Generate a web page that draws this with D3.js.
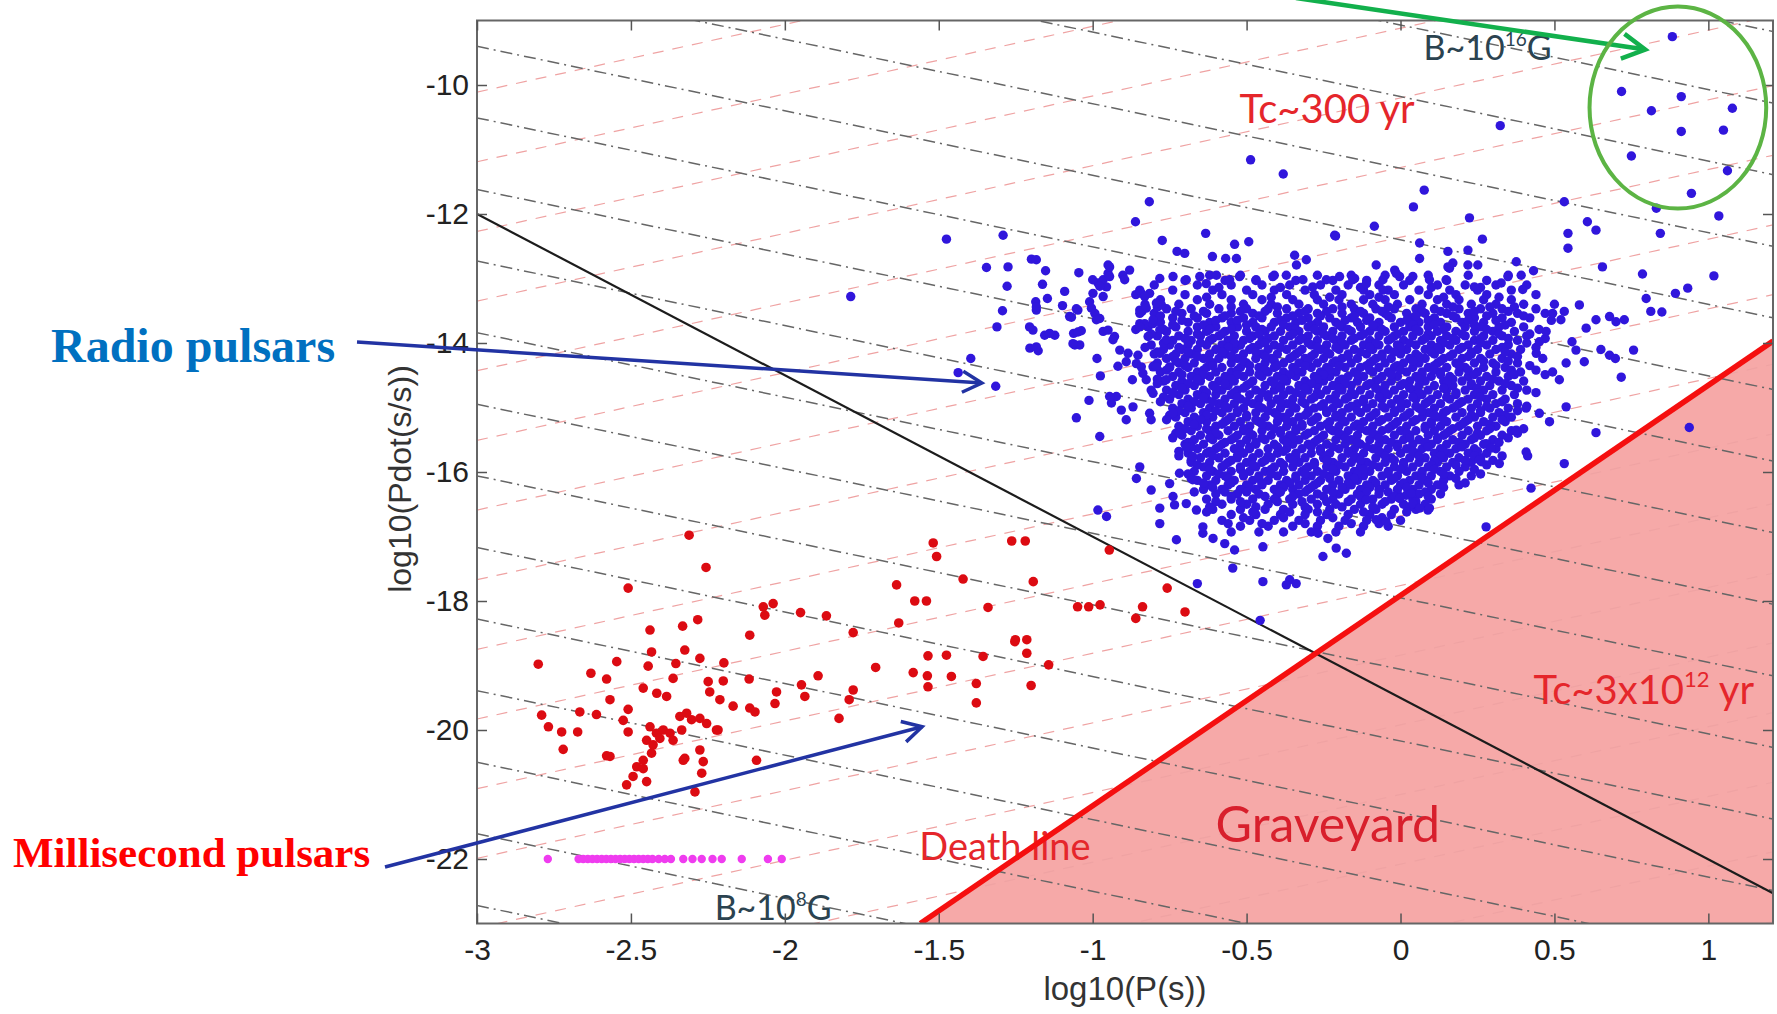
<!DOCTYPE html>
<html>
<head>
<meta charset="utf-8">
<script src="https://cdn.jsdelivr.net/npm/d3@7"></script>
<style>
  body { margin: 0; background: #fff; }
  svg { display: block; }
</style>
</head>
<body>
<div id="chart"></div>
<script>
// axis ticks
var xTicks = [-3, -2.5, -2, -1.5, -1, -0.5, 0, 0.5, 1];
var yTicks = [-10, -12, -14, -16, -18, -20, -22];

// constant-B lines (slope -1), value = y + x
var bLines = [-7.96, -9.07, -10.18, -11.29, -12.40, -13.51, -14.62, -15.73, -16.84, -17.95, -19.06, -20.17, -21.28, -22.39, -23.50, -24.61, -25.72];
// constant-age lines (slope ~1.05), value = y - 1.05 x
var ageLines = [-6.96, -8.04, -9.12, -10.20, -11.28, -12.36, -13.44, -14.52, -15.60, -16.68, -17.76, -18.84, -19.92, -21.00, -22.08, -23.16, -24.24];

var deathLine = [[-1.56, -23], [1.21, -13.97]];
var spinLine = [[-3, -12], [1.21, -22.53]];

// radio pulsars, dense core, one row per Pdot value
var radioRows = [
  [-12.95, [-0.62, -0.52, -0.41, -0.27, -0.16, -0.05, 0.09, 0.22, 0.35]],
  [-13.03, [-0.70, -0.57, -0.47, -0.34, -0.22, -0.11, 0.03, 0.15, 0.28]],
  [-13.10, [-0.80, -0.66, -0.55, -0.45, -0.36, -0.26, -0.17, -0.07, 0.01, 0.12, 0.21, 0.31, 0.41]],
  [-13.18, [-0.74, -0.61, -0.50, -0.41, -0.31, -0.21, -0.12, -0.04, 0.06, 0.16, 0.25, 0.36]],
  [-13.25, [-0.86, -0.70, -0.58, -0.48, -0.37, -0.28, -0.19, -0.10, -0.02, 0.09, 0.18, 0.28, 0.44]],
  [-13.33, [-0.78, -0.66, -0.55, -0.45, -0.35, -0.27, -0.20, -0.12, -0.05, 0.03, 0.12, 0.19, 0.27, 0.36]],
  [-13.40, [-0.83, -0.72, -0.62, -0.51, -0.42, -0.33, -0.25, -0.16, -0.09, -0.01, 0.07, 0.15, 0.23, 0.31, 0.40, 0.50]],
  [-13.47, [-0.76, -0.68, -0.59, -0.50, -0.43, -0.37, -0.30, -0.22, -0.15, -0.08, -0.02, 0.05, 0.11, 0.19, 0.26, 0.33, 0.44]],
  [-13.54, [-0.80, -0.71, -0.63, -0.55, -0.48, -0.40, -0.33, -0.27, -0.19, -0.12, -0.05, 0.02, 0.08, 0.15, 0.22, 0.30, 0.38, 0.47]],
  [-13.61, [-0.74, -0.66, -0.58, -0.51, -0.45, -0.37, -0.30, -0.23, -0.16, -0.10, -0.03, 0.04, 0.11, 0.18, 0.24, 0.33, 0.42]],
  [-13.68, [-0.78, -0.69, -0.62, -0.55, -0.48, -0.41, -0.34, -0.27, -0.21, -0.14, -0.07, 0.00, 0.06, 0.13, 0.20, 0.27, 0.36]],
  [-13.75, [-0.82, -0.73, -0.66, -0.60, -0.53, -0.47, -0.42, -0.36, -0.30, -0.25, -0.19, -0.13, -0.08, -0.02, 0.03, 0.09, 0.15, 0.21, 0.26, 0.32, 0.40]],
  [-13.82, [-0.76, -0.69, -0.63, -0.57, -0.50, -0.44, -0.39, -0.33, -0.27, -0.22, -0.16, -0.10, -0.05, 0.01, 0.06, 0.12, 0.18, 0.24, 0.30, 0.37]],
  [-13.89, [-0.79, -0.72, -0.65, -0.59, -0.54, -0.48, -0.41, -0.36, -0.30, -0.24, -0.19, -0.13, -0.07, -0.02, 0.04, 0.10, 0.15, 0.21, 0.27, 0.33, 0.41]],
  [-13.96, [-0.74, -0.68, -0.62, -0.56, -0.51, -0.45, -0.38, -0.33, -0.27, -0.21, -0.16, -0.10, -0.04, 0.01, 0.07, 0.13, 0.18, 0.24, 0.30, 0.38]],
  [-14.03, [-0.81, -0.75, -0.69, -0.63, -0.58, -0.52, -0.46, -0.41, -0.35, -0.29, -0.24, -0.18, -0.12, -0.07, -0.01, 0.05, 0.10, 0.16, 0.22, 0.28, 0.35]],
  [-14.10, [-0.77, -0.71, -0.66, -0.60, -0.54, -0.49, -0.43, -0.37, -0.32, -0.26, -0.20, -0.15, -0.09, -0.04, 0.02, 0.08, 0.13, 0.19, 0.25, 0.31, 0.39]],
  [-14.17, [-0.80, -0.73, -0.68, -0.62, -0.57, -0.51, -0.45, -0.40, -0.34, -0.28, -0.23, -0.17, -0.11, -0.06, 0.00, 0.05, 0.11, 0.17, 0.23, 0.29, 0.36]],
  [-14.24, [-0.76, -0.70, -0.64, -0.59, -0.53, -0.47, -0.42, -0.36, -0.31, -0.25, -0.19, -0.14, -0.08, -0.03, 0.03, 0.08, 0.14, 0.20, 0.26, 0.33]],
  [-14.31, [-0.79, -0.72, -0.67, -0.61, -0.55, -0.50, -0.44, -0.38, -0.33, -0.27, -0.22, -0.16, -0.10, -0.05, 0.01, 0.06, 0.12, 0.18, 0.24, 0.30, 0.38]],
  [-14.38, [-0.75, -0.69, -0.63, -0.58, -0.52, -0.46, -0.41, -0.35, -0.29, -0.24, -0.18, -0.13, -0.07, -0.02, 0.04, 0.09, 0.15, 0.21, 0.27, 0.34]],
  [-14.45, [-0.78, -0.72, -0.66, -0.60, -0.55, -0.49, -0.43, -0.38, -0.32, -0.26, -0.21, -0.15, -0.09, -0.04, 0.02, 0.07, 0.13, 0.19, 0.25, 0.31, 0.39]],
  [-14.52, [-0.74, -0.68, -0.62, -0.57, -0.51, -0.45, -0.40, -0.34, -0.28, -0.23, -0.17, -0.12, -0.06, -0.01, 0.05, 0.10, 0.16, 0.22, 0.28, 0.35]],
  [-14.59, [-0.77, -0.71, -0.65, -0.59, -0.54, -0.48, -0.42, -0.37, -0.31, -0.25, -0.20, -0.14, -0.08, -0.03, 0.03, 0.08, 0.14, 0.20, 0.26, 0.32, 0.40]],
  [-14.66, [-0.73, -0.67, -0.61, -0.56, -0.50, -0.44, -0.39, -0.33, -0.27, -0.22, -0.16, -0.11, -0.05, 0.00, 0.06, 0.11, 0.17, 0.23, 0.29, 0.36]],
  [-14.73, [-0.76, -0.70, -0.64, -0.58, -0.53, -0.47, -0.41, -0.36, -0.30, -0.24, -0.19, -0.13, -0.07, -0.02, 0.04, 0.09, 0.15, 0.21, 0.27, 0.33, 0.41]],
  [-14.80, [-0.72, -0.66, -0.60, -0.55, -0.49, -0.43, -0.38, -0.32, -0.26, -0.21, -0.15, -0.10, -0.04, 0.01, 0.07, 0.12, 0.18, 0.24, 0.30, 0.37]],
  [-14.87, [-0.75, -0.69, -0.63, -0.57, -0.52, -0.46, -0.40, -0.35, -0.29, -0.23, -0.18, -0.12, -0.06, -0.01, 0.05, 0.10, 0.16, 0.22, 0.28, 0.34]],
  [-14.94, [-0.71, -0.65, -0.59, -0.54, -0.48, -0.42, -0.37, -0.31, -0.25, -0.20, -0.14, -0.09, -0.03, 0.02, 0.08, 0.13, 0.19, 0.25, 0.31, 0.38]],
  [-15.01, [-0.74, -0.68, -0.62, -0.56, -0.51, -0.45, -0.39, -0.34, -0.28, -0.22, -0.17, -0.11, -0.05, 0.00, 0.06, 0.11, 0.17, 0.23, 0.29, 0.35]],
  [-15.08, [-0.70, -0.64, -0.58, -0.53, -0.47, -0.41, -0.36, -0.30, -0.24, -0.19, -0.13, -0.08, -0.02, 0.03, 0.09, 0.14, 0.20, 0.26, 0.32]],
  [-15.15, [-0.73, -0.67, -0.61, -0.55, -0.50, -0.44, -0.38, -0.33, -0.27, -0.21, -0.16, -0.10, -0.04, 0.01, 0.07, 0.12, 0.18, 0.24, 0.30, 0.36]],
  [-15.22, [-0.69, -0.63, -0.57, -0.52, -0.46, -0.40, -0.35, -0.29, -0.23, -0.18, -0.12, -0.07, -0.01, 0.04, 0.10, 0.15, 0.21, 0.27, 0.34]],
  [-15.29, [-0.72, -0.66, -0.60, -0.54, -0.49, -0.43, -0.37, -0.32, -0.26, -0.20, -0.15, -0.09, -0.03, 0.02, 0.08, 0.13, 0.19, 0.25, 0.31]],
  [-15.36, [-0.68, -0.62, -0.56, -0.51, -0.45, -0.39, -0.34, -0.28, -0.22, -0.17, -0.11, -0.06, 0.00, 0.05, 0.11, 0.16, 0.22, 0.28, 0.36]],
  [-15.43, [-0.71, -0.65, -0.59, -0.53, -0.48, -0.42, -0.36, -0.31, -0.25, -0.19, -0.14, -0.08, -0.02, 0.03, 0.09, 0.14, 0.20, 0.26, 0.33]],
  [-15.50, [-0.67, -0.61, -0.55, -0.50, -0.44, -0.38, -0.33, -0.27, -0.21, -0.16, -0.10, -0.05, 0.01, 0.06, 0.12, 0.17, 0.23, 0.30]],
  [-15.57, [-0.70, -0.64, -0.58, -0.52, -0.47, -0.41, -0.35, -0.30, -0.24, -0.18, -0.13, -0.07, -0.01, 0.04, 0.10, 0.15, 0.21, 0.27]],
  [-15.64, [-0.66, -0.60, -0.54, -0.49, -0.43, -0.37, -0.32, -0.26, -0.20, -0.15, -0.09, -0.04, 0.02, 0.07, 0.13, 0.18, 0.24, 0.31]],
  [-15.71, [-0.69, -0.63, -0.57, -0.51, -0.46, -0.40, -0.34, -0.29, -0.23, -0.17, -0.12, -0.06, 0.00, 0.05, 0.11, 0.16, 0.22, 0.28]],
  [-15.78, [-0.65, -0.59, -0.53, -0.48, -0.42, -0.36, -0.31, -0.25, -0.19, -0.14, -0.08, -0.03, 0.03, 0.08, 0.14, 0.19, 0.26]],
  [-15.85, [-0.68, -0.62, -0.56, -0.50, -0.45, -0.39, -0.33, -0.28, -0.22, -0.16, -0.11, -0.05, 0.01, 0.06, 0.12, 0.17, 0.23]],
  [-15.92, [-0.64, -0.58, -0.52, -0.47, -0.41, -0.35, -0.30, -0.24, -0.18, -0.13, -0.07, -0.02, 0.04, 0.09, 0.15, 0.21]],
  [-15.99, [-0.67, -0.61, -0.55, -0.49, -0.44, -0.38, -0.32, -0.27, -0.21, -0.15, -0.10, -0.04, 0.02, 0.07, 0.13, 0.19]],
  [-16.06, [-0.63, -0.57, -0.51, -0.46, -0.40, -0.34, -0.29, -0.23, -0.17, -0.12, -0.06, -0.01, 0.05, 0.10, 0.16, 0.23]],
  [-16.13, [-0.66, -0.60, -0.54, -0.48, -0.43, -0.37, -0.31, -0.26, -0.20, -0.14, -0.09, -0.03, 0.03, 0.08, 0.14]],
  [-16.20, [-0.62, -0.56, -0.50, -0.45, -0.39, -0.33, -0.28, -0.22, -0.16, -0.11, -0.05, 0.00, 0.06, 0.12, 0.19]],
  [-16.27, [-0.64, -0.58, -0.52, -0.47, -0.41, -0.35, -0.30, -0.24, -0.18, -0.13, -0.07, -0.01, 0.04, 0.10]],
  [-16.34, [-0.60, -0.53, -0.46, -0.40, -0.33, -0.27, -0.20, -0.14, -0.07, -0.01, 0.06, 0.13]],
  [-16.42, [-0.63, -0.55, -0.48, -0.41, -0.36, -0.29, -0.22, -0.16, -0.09, -0.03, 0.04, 0.10]],
  [-16.50, [-0.58, -0.50, -0.43, -0.35, -0.27, -0.21, -0.13, -0.06, 0.01, 0.08]],
  [-16.58, [-0.61, -0.52, -0.44, -0.38, -0.30, -0.23, -0.15, -0.08, -0.02, 0.05]],
  [-16.66, [-0.55, -0.47, -0.39, -0.31, -0.24, -0.17, -0.10, -0.03]],
  [-16.75, [-0.58, -0.49, -0.41, -0.33, -0.26, -0.18, -0.11, 0.00]],
  [-16.84, [-0.52, -0.43, -0.35, -0.27, -0.20, -0.12, -0.04]],
  [-16.93, [-0.55, -0.46, -0.38, -0.29, -0.21, -0.13]],
  // in-between rows of the core
  [-13.14, [-0.59, -0.39, -0.13, 0.10, 0.26]],
  [-13.29, [-0.63, -0.42, -0.23, -0.07, 0.14, 0.32]],
  [-13.44, [-0.79, -0.55, -0.40, -0.19, -0.04, 0.17, 0.29, 0.37]],
  [-13.51, [-0.84, -0.73, -0.64, -0.52, -0.44, -0.31, -0.24, -0.13, -0.06, 0.07, 0.13, 0.24, 0.35]],
  [-13.58, [-0.78, -0.67, -0.57, -0.46, -0.35, -0.26, -0.15, -0.04, 0.05, 0.17, 0.28, 0.40]],
  [-13.65, [-0.71, -0.60, -0.53, -0.39, -0.32, -0.18, -0.11, 0.02, 0.09, 0.22, 0.31, 0.49]],
  [-13.72, [-0.74, -0.64, -0.50, -0.38, -0.29, -0.20, -0.09, 0.04, 0.11, 0.24, 0.34]],
  [-13.79, [-0.86, -0.77, -0.62, -0.55, -0.45, -0.34, -0.28, -0.17, -0.06, 0.05, 0.14, 0.28, 0.45]],
  [-13.86, [-0.81, -0.66, -0.58, -0.46, -0.35, -0.25, -0.12, -0.01, 0.09, 0.20, 0.32, 0.42]],
  [-13.93, [-0.70, -0.61, -0.49, -0.43, -0.32, -0.22, -0.15, -0.03, 0.08, 0.17, 0.26, 0.35, 0.47]],
  [-14.00, [-0.77, -0.65, -0.54, -0.44, -0.30, -0.19, -0.08, 0.03, 0.14, 0.26, 0.41]],
  [-14.07, [-0.83, -0.72, -0.56, -0.48, -0.39, -0.27, -0.21, -0.10, 0.00, 0.12, 0.20, 0.33, 0.44]],
  [-14.14, [-0.79, -0.69, -0.58, -0.47, -0.33, -0.24, -0.13, -0.02, 0.10, 0.23, 0.34]],
  [-14.21, [-0.74, -0.66, -0.55, -0.44, -0.35, -0.29, -0.17, -0.06, 0.06, 0.16, 0.22, 0.38]],
  [-14.28, [-0.73, -0.62, -0.51, -0.41, -0.30, -0.21, -0.09, 0.04, 0.13, 0.27, 0.35]],
  [-14.35, [-0.80, -0.70, -0.61, -0.49, -0.40, -0.31, -0.20, -0.11, -0.01, 0.11, 0.19, 0.31, 0.42]],
  [-14.42, [-0.76, -0.64, -0.53, -0.44, -0.34, -0.23, -0.10, 0.00, 0.11, 0.22, 0.36, 0.44]],
  [-14.49, [-0.71, -0.64, -0.53, -0.46, -0.36, -0.25, -0.14, -0.03, 0.07, 0.13, 0.24, 0.37, 0.47]],
  [-14.56, [-0.79, -0.66, -0.55, -0.38, -0.27, -0.19, -0.07, 0.06, 0.17, 0.30]],
  [-14.63, [-0.79, -0.69, -0.57, -0.49, -0.41, -0.29, -0.18, -0.10, 0.01, 0.15, 0.23, 0.34]],
  [-14.70, [-0.71, -0.60, -0.51, -0.39, -0.31, -0.20, -0.08, 0.03, 0.14, 0.25, 0.38]],
  [-14.77, [-0.74, -0.63, -0.54, -0.45, -0.34, -0.27, -0.16, -0.05, 0.06, 0.18, 0.25, 0.44]],
  [-14.84, [-0.77, -0.64, -0.53, -0.43, -0.28, -0.17, -0.07, 0.04, 0.15, 0.26]],
  [-14.91, [-0.78, -0.67, -0.61, -0.50, -0.39, -0.32, -0.21, -0.12, 0.00, 0.09, 0.20, 0.33]],
  [-14.98, [-0.69, -0.57, -0.46, -0.35, -0.26, -0.16, -0.06, 0.05, 0.18, 0.28, 0.41]],
  [-15.05, [-0.72, -0.60, -0.53, -0.43, -0.30, -0.24, -0.14, -0.02, 0.07, 0.15, 0.26, 0.38]],
  [-15.12, [-0.75, -0.63, -0.50, -0.40, -0.31, -0.21, -0.09, 0.02, 0.11, 0.23, 0.34]],
  [-15.19, [-0.76, -0.65, -0.56, -0.47, -0.37, -0.28, -0.19, -0.06, 0.05, 0.14, 0.22, 0.33]],
  [-15.26, [-0.67, -0.58, -0.45, -0.32, -0.24, -0.14, -0.02, 0.10, 0.20, 0.29]],
  [-15.33, [-0.70, -0.63, -0.51, -0.41, -0.34, -0.23, -0.13, -0.04, 0.08, 0.17, 0.29, 0.40]],
  [-15.40, [-0.73, -0.60, -0.49, -0.39, -0.30, -0.20, -0.09, 0.02, 0.15, 0.25, 0.38]],
  [-15.47, [-0.74, -0.62, -0.54, -0.45, -0.35, -0.26, -0.18, -0.07, 0.03, 0.12, 0.24, 0.35]],
  [-15.54, [-0.69, -0.57, -0.47, -0.37, -0.28, -0.14, -0.03, 0.08, 0.19, 0.32]],
  [-15.61, [-0.68, -0.59, -0.49, -0.40, -0.29, -0.22, -0.11, -0.01, 0.09, 0.20, 0.29]],
  [-15.68, [-0.72, -0.62, -0.52, -0.38, -0.26, -0.17, -0.07, 0.04, 0.14, 0.25]],
  [-15.75, [-0.72, -0.61, -0.53, -0.43, -0.34, -0.24, -0.15, -0.05, 0.06, 0.13, 0.24, 0.33]],
  [-15.82, [-0.68, -0.55, -0.44, -0.35, -0.24, -0.13, -0.02, 0.11, 0.21, 0.30]],
  [-15.89, [-0.66, -0.57, -0.48, -0.38, -0.28, -0.20, -0.09, 0.01, 0.10, 0.18, 0.28]],
  [-15.96, [-0.62, -0.52, -0.42, -0.31, -0.22, -0.12, 0.00, 0.11, 0.24]],
  [-16.03, [-0.69, -0.59, -0.51, -0.42, -0.31, -0.25, -0.14, -0.04, 0.07, 0.14, 0.26]],
  [-16.10, [-0.68, -0.56, -0.46, -0.34, -0.23, -0.15, -0.02, 0.07, 0.18]],
  [-16.17, [-0.64, -0.55, -0.45, -0.36, -0.27, -0.17, -0.08, 0.01, 0.09, 0.21]],
  [-16.24, [-0.61, -0.49, -0.38, -0.29, -0.19, -0.10, 0.02, 0.14]],
  [-16.31, [-0.67, -0.57, -0.50, -0.39, -0.31, -0.22, -0.11, -0.04, 0.08]],
  [-16.38, [-0.55, -0.44, -0.35, -0.25, -0.13, -0.02, 0.09]],
  [-16.46, [-0.60, -0.52, -0.40, -0.32, -0.24, -0.17, -0.05, 0.05]],
  [-16.54, [-0.62, -0.47, -0.31, -0.19, -0.09, 0.03]],
  [-16.62, [-0.63, -0.48, -0.36, -0.27, -0.12, 0.02]],
  [-16.71, [-0.51, -0.38, -0.22, -0.06]],
  [-16.80, [-0.56, -0.45, -0.31, -0.16, -0.07]]
];

// radio pulsars, scattered ones
var radioPoints = [
  [0.883,-9.25],[0.718,-10.10],[0.912,-10.18],[0.815,-10.40],[1.078,-10.36],[0.912,-10.72],[1.049,-10.70],
  [0.75,-11.10],[1.062,-11.33],[0.945,-11.68],[0.324,-10.63],[-0.487,-11.16],[-0.381,-11.38],[-0.816,-11.81],
  [0.077,-11.63],[0.042,-11.89],[0.532,-11.81],[0.831,-11.91],[1.034,-12.03],[0.844,-12.30],[0.544,-12.30],
  [0.544,-12.53],[0.607,-12.12],[0.635,-12.25],[0.224,-12.06],[0.266,-12.39],[-0.085,-12.19],[-0.214,-12.33],
  [-0.861,-12.12],[-0.774,-12.41],[0.656,-12.82],[0.786,-12.93],[1.018,-12.96],[0.893,-13.23],[0.933,-13.15],
  [0.813,-13.51],[0.849,-13.52],
  [-1.475,-12.39],[-1.786,-13.28],[-1.291,-12.33],[-1.345,-12.83],[-1.275,-12.82],[-1.278,-13.12],[-1.199,-12.70],
  [-1.183,-12.71],[-1.153,-12.88],[-1.163,-13.09],[-1.293,-13.50],[-1.311,-13.75],[-1.396,-14.24],[-1.437,-14.46],
  [-1.315,-14.67],[-1.194,-13.80],[-1.204,-14.08],[-1.177,-14.12],[-1.156,-13.88],[-1.123,-13.88],[-1.147,-13.31],
  [-1.185,-13.36],[-1.183,-13.49],[-1.091,-13.20],[-1.098,-13.42],[-1.045,-12.91],[-1.075,-13.59],[-1.048,-13.49],
  [-1.062,-13.85],[-1.037,-13.81],[-1.058,-14.03],[-1.042,-14.03],[-1.010,-13.36],[-0.999,-13.23],[-0.983,-13.07],
  [-0.966,-13.02],[-0.955,-13.13],[-0.993,-13.54],[-0.977,-13.62],[-0.95,-12.79],[-0.95,-12.92],[-0.902,-12.95],
  [-0.88,-12.87],[-0.896,-13.02],[-0.966,-13.82],[-0.929,-13.90],[-0.934,-13.95],[-0.986,-14.24],[-0.975,-14.51],
  [-1.012,-14.89],[-1.053,-15.16],[-0.977,-15.45],[-0.923,-14.83],[-0.939,-14.93],[-0.918,-14.36],[-0.891,-15.19],
  [-0.869,-14.99],[-0.885,-14.16],[-0.853,-14.19],[-0.858,-14.32],[-0.842,-14.37],[-0.837,-14.47],[-0.826,-14.57],
  [-0.804,-14.37],[-0.81,-14.73],[-0.815,-15.09],[-0.81,-15.19],[-0.847,-15.92],[-0.858,-16.10],[-0.81,-16.28],
  [-0.782,-16.56],[-0.782,-16.80],[-0.983,-16.59],[-0.955,-16.69],[-0.842,-13.23],[-0.815,-13.23],[-0.847,-13.49],
  [-0.826,-13.46],[-0.847,-13.70],[-0.831,-13.70],[-0.804,-13.70],[-0.777,-13.41],[-0.782,-13.0],
  [-0.633,-12.30],[-0.726,-12.58],[-0.701,-12.61],[-0.539,-12.47],[-0.493,-12.43],[-0.611,-12.66],[-0.568,-12.69],
  [-0.533,-12.69],[-0.211,-12.34],[0.062,-12.45],[0.154,-12.58],[0.159,-12.84],[0.062,-12.69],[-0.344,-12.64],
  [-0.306,-12.71],[-0.338,-12.79],[-0.079,-12.79],[-0.019,-12.87],[-0.003,-12.97],[-0.149,-13.0],[-0.057,-13.18],
  [-0.75,-16.18],[-0.734,-16.51],[-0.728,-17.05],[-0.66,-17.73],[-0.642,-16.95],[-0.609,-17.03],[-0.571,-17.11],
  [-0.539,-17.21],[-0.545,-17.49],[-0.447,-17.16],[-0.447,-17.70],[-0.36,-17.67],[-0.339,-17.73],[-0.371,-17.75],
  [-0.252,-17.31],[-0.209,-17.18],[-0.176,-17.26],[-0.236,-17.03],[-0.268,-16.95],[-0.079,-16.74],[-0.047,-16.77],
  [0.089,-16.59],[0.040,-16.49],[0.018,-16.36],[-0.111,-16.43],[-0.068,-16.28],[-0.456,-18.30],
  [-1.183,-13.44],[-1.053,-13.47],[-1.069,-13.60],[-1.048,-13.83],[-1.064,-14.01],[-1.140,-13.85],[-1.183,-14.06],
  [-1.205,-13.75],[-1.0,-13.02],[-0.977,-13.12],[-0.945,-12.97],[-0.945,-12.82],[-0.966,-13.28],[-1.004,-13.46],
  [-0.988,-13.64],[-0.95,-13.80],[-0.945,-14.83],[-0.907,-15.04],[-0.871,-14.57],[-0.891,-14.29],[-0.912,-14.11],
  [-0.847,-13.18],[-0.831,-13.28],[-0.793,-13.38],[-0.847,-13.54],[-0.804,-13.64],[-0.782,-13.80],[-0.761,-13.95],
  [-0.847,-13.75],[-0.82,-13.90],[-0.782,-14.16],[-0.75,-14.37],[-0.793,-14.37],[-0.761,-14.57],[-0.739,-14.78],
  [-0.804,-14.78],[-0.739,-15.09],[-0.718,-15.40],[-0.696,-15.61],[-0.675,-15.76],[-0.718,-16.02],[-0.675,-16.12],
  [-0.739,-16.38],[-0.696,-16.49],[-0.663,-16.59],[-0.642,-16.85],
  [-0.739,-12.97],[-0.696,-13.02],[-0.652,-12.97],[-0.631,-13.08],[-0.598,-12.95],[-0.555,-13.02],[-0.523,-12.97],
  [-0.469,-13.02],[-0.415,-12.97],[-0.371,-12.95],[-0.317,-13.02],[-0.285,-13.13],[-0.241,-13.02],[-0.198,-12.97],
  [-0.155,-13.02],[-0.111,-13.08],[-0.057,-13.02],[-0.014,-12.92],[0.040,-12.97],[0.094,-13.02],[0.148,-13.02],
  [0.170,-12.76],
  [0.219,-12.56],[0.154,-12.82],[0.219,-12.79],[0.251,-12.79],[0.376,-12.74],[0.392,-12.95],[0.432,-12.88],
  [0.397,-13.17],[0.24,-13.13],[0.327,-13.07],[0.349,-12.97],[0.798,-13.31],[0.581,-13.41],[0.494,-13.54],
  [0.532,-13.51],[0.521,-13.64],[0.679,-13.59],[0.70,-13.67],[0.727,-13.64],[0.635,-13.64],[0.603,-13.77],
  [0.651,-14.10],[0.679,-14.19],[0.698,-14.24],[0.757,-14.11],[0.717,-14.53],[0.557,-13.98],[0.57,-14.11],
  [0.538,-14.31],[0.597,-14.29],[0.494,-14.45],[0.516,-14.57],[0.473,-13.82],[0.451,-13.98],[0.441,-14.16],
  [0.462,-14.24],[0.538,-14.99],[0.635,-15.39],[0.532,-15.87],[0.408,-15.69],[0.413,-15.75],[0.321,-15.87],
  [0.262,-15.84],[0.424,-16.25],[0.484,-15.22],[0.451,-15.09],[0.408,-15.01],[0.376,-15.35],[0.938,-15.31],
  [0.278,-16.85],[0.094,-16.56],[0.062,-16.56],[0.035,-16.33],[-0.003,-16.41],[0.278,-15.56],[0.294,-15.63],
  [0.256,-15.81]
];

// millisecond pulsars
var mspPoints = [
  [-2.311,-16.98],[-2.256,-17.48],[-2.509,-17.80],[-1.518,-17.10],[-1.507,-17.31],[-1.421,-17.66],[-1.637,-17.75],
  [-1.578,-18.00],[-1.540,-18.00],[-1.63,-18.34],[-1.34,-18.10],[-1.253,-18.63],[-2.07,-18.09],[-2.038,-18.04],
  [-2.065,-18.22],[-1.949,-18.18],[-1.865,-18.23],[-1.778,-18.49],[-2.114,-18.53],[-2.283,-18.29],[-2.332,-18.39],
  [-2.438,-18.45],[-2.433,-18.79],[-2.325,-18.76],[-2.276,-18.89],[-2.198,-18.96],[-2.354,-18.97],[-2.444,-19.01],
  [-2.546,-18.94],[-2.801,-18.98],[-2.63,-19.12],[-2.579,-19.21],[-1.705,-19.03],[-1.583,-19.11],[-1.537,-19.16],
  [-1.535,-19.33],[-1.475,-18.84],[-1.535,-18.85],[-1.356,-18.86],[-1.459,-19.17],[-1.378,-19.28],[-1.378,-19.58],
  [-1.892,-19.16],[-1.946,-19.30],[-1.935,-19.48],[-2.027,-19.41],[-2.032,-19.59],[-1.778,-19.38],[-1.791,-19.53],
  [-1.824,-19.82],[-2.116,-19.21],[-2.2,-19.24],[-2.249,-19.25],[-2.244,-19.41],[-2.168,-19.63],[-2.114,-19.66],
  [-2.097,-19.72],[-2.211,-19.53],[-2.217,-20.0],[-2.46,-19.35],[-2.416,-19.43],[-2.384,-19.48],[-2.363,-19.2],
  [-2.568,-19.53],[-2.509,-19.68],[-2.666,-19.72],[-2.612,-19.76],[-2.79,-19.77],[-2.768,-19.95],[-2.725,-20.03],
  [-2.673,-20.03],[-2.72,-20.30],[-2.525,-19.85],[-2.509,-20.03],
  [-2.438,-19.95],[-2.417,-20.05],[-2.395,-20.0],[-2.449,-20.16],[-2.428,-20.23],[-2.406,-20.13],[-2.373,-20.05],
  [-2.341,-19.79],[-2.319,-19.74],[-2.303,-19.84],[-2.276,-19.82],[-2.254,-19.9],[-2.222,-20.0],[-2.335,-20.0],
  [-2.363,-20.16],[-2.433,-20.36],[-2.46,-20.47],[-2.481,-20.57],[-2.493,-20.72],[-2.449,-20.80],[-2.514,-20.85],
  [-2.325,-20.44],[-2.276,-20.31],[-2.265,-20.49],[-2.27,-20.67],[-2.292,-20.96],[-2.568,-20.41],[-2.092,-20.47],
  [-2.579,-20.40],[-2.46,-20.60],[-2.33,-20.47],
  [-1.263,-17.07],[-1.219,-17.07],[-1.193,-17.70],[-0.946,-17.21],[-1.049,-18.09],[-1.013,-18.09],[-0.976,-18.06],
  [-0.838,-18.09],[-0.86,-18.27],[-0.758,-17.80],[-1.251,-18.60],[-1.214,-18.60],[-1.214,-18.81],[-1.143,-18.99],
  [-0.70,-18.17],[-1.20,-19.31]
];

// pulsars with only an upper limit, drawn at -22
var limitX = [-2.77, -2.67, -2.655, -2.64, -2.625, -2.61, -2.595, -2.58, -2.565, -2.55, -2.535, -2.52, -2.505, -2.49,
  -2.475, -2.46, -2.445, -2.43, -2.41, -2.39, -2.37, -2.33, -2.30, -2.27, -2.235, -2.205, -2.14, -2.055, -2.01];
var limitY = -22;

var W = 1777, H = 1014;
var pLeft = 477, pRight = 1773, pTop = 20.5, pBottom = 923.5;

var x = d3.scaleLinear().domain([-3, 1.21]).range([pLeft, pRight]);
var y = d3.scaleLinear().domain([-9, -23]).range([pTop, pBottom]);

var svg = d3.select("#chart").append("svg")
  .attr("width", W)
  .attr("height", H);

svg.append("defs").append("clipPath")
  .attr("id", "plot")
  .append("rect")
  .attr("x", pLeft).attr("y", pTop)
  .attr("width", pRight - pLeft).attr("height", pBottom - pTop);

var plot = svg.append("g").attr("clip-path", "url(#plot)");
var line = d3.line().x(function(d) { return x(d[0]); }).y(function(d) { return y(d[1]); });

// graveyard
plot.append("path")
  .attr("d", line([deathLine[0], deathLine[1], [1.21, -23]]) + "Z")
  .style("fill", "#f6a9a8");

// constant age lines
plot.selectAll(".age").data(ageLines).enter().append("path")
  .attr("d", function(d) { return line([[-3, d - 3.15], [1.21, d + 1.05 * 1.21]]); })
  .style("fill", "none")
  .style("stroke", "#efa3a3")
  .style("stroke-width", 1.2)
  .style("stroke-dasharray", "11,9");

// constant field lines
plot.selectAll(".bf").data(bLines).enter().append("path")
  .attr("d", function(d) { return line([[-3, d + 3], [1.21, d - 1.21]]); })
  .style("fill", "none")
  .style("stroke", "#666")
  .style("stroke-width", 1.5)
  .style("stroke-dasharray", "12,5,2,5");

plot.append("path")
  .attr("d", line(spinLine))
  .style("fill", "none")
  .style("stroke", "#1c1c1c")
  .style("stroke-width", 2.2);

// labels inside the plot
var lab = "Lato, 'Open Sans', sans-serif";
var labels = svg.append("g");
function tag(px, py, size, color) {
  return labels.append("text")
    .attr("x", x(px)).attr("y", y(py))
    .style("font-family", lab)
    .style("font-size", size + "px")
    .style("fill", color);
}
function sup(t, s, size, rest) {
  t.append("tspan").attr("dy", -size * 0.75).style("font-size", size + "px").text(s);
  t.append("tspan").attr("dy", size * 0.75).text(rest);
}
tag(-0.523, -10.59, 40, "#e5262b").text("Tc~300 yr");
sup(tag(0.075, -9.61, 34, "#2b4350").text("B~10"), "16", 19, "G");
sup(tag(0.432, -19.59, 40, "#e5262b").text("Tc~3x10"), "12", 22, " yr");
tag(-0.601, -21.73, 50, "#d81f2c").text("Graveyard");
tag(-1.563, -22.02, 38, "#e5262b").text("Death line");
sup(tag(-2.228, -22.95, 34, "#2b4350").text("B~10"), "8", 19, "G");

var marks = svg.append("g").attr("clip-path", "url(#plot)");
marks.append("path")
  .attr("d", line(deathLine))
  .style("fill", "none")
  .style("stroke", "#f50f0f")
  .style("stroke-width", 5.5);

// points
var core = [];
radioRows.forEach(function(r) { r[1].forEach(function(v) { core.push([v, r[0]]); }); });

marks.selectAll(".limit").data(limitX).enter().append("circle")
  .attr("cx", function(d) { return x(d); })
  .attr("cy", y(limitY))
  .attr("r", 4.2)
  .style("fill", "#ef3cef");

marks.selectAll(".msp").data(mspPoints).enter().append("circle")
  .attr("cx", function(d) { return x(d[0]); })
  .attr("cy", function(d) { return y(d[1]); })
  .attr("r", 4.8)
  .style("fill", "#dc0b12");

marks.selectAll(".radio").data(core.concat(radioPoints)).enter().append("circle")
  .attr("cx", function(d) { return x(d[0]); })
  .attr("cy", function(d) { return y(d[1]); })
  .attr("r", 4.7)
  .style("fill", "#3016dc");

// frame and ticks
svg.append("rect")
  .attr("x", pLeft).attr("y", pTop)
  .attr("width", pRight - pLeft).attr("height", pBottom - pTop)
  .style("fill", "none")
  .style("stroke", "#666")
  .style("stroke-width", 2);

var fmt = function(d) { return String(d); };
var tickFont = "'Liberation Sans', Arial, Helvetica, sans-serif";

svg.append("g").attr("transform", "translate(0," + pBottom + ")")
  .call(d3.axisBottom(x).tickValues(xTicks).tickFormat(fmt).tickSizeInner(-10).tickSizeOuter(0).tickPadding(15));
svg.append("g").attr("transform", "translate(0," + pTop + ")")
  .call(d3.axisTop(x).tickValues(xTicks).tickFormat("").tickSizeInner(-10).tickSizeOuter(0));
svg.append("g").attr("transform", "translate(" + pLeft + ",0)")
  .call(d3.axisLeft(y).tickValues(yTicks).tickFormat(fmt).tickSizeInner(-10).tickSizeOuter(0).tickPadding(8));
svg.append("g").attr("transform", "translate(" + pRight + ",0)")
  .call(d3.axisRight(y).tickValues(yTicks).tickFormat("").tickSizeInner(-10).tickSizeOuter(0));

svg.selectAll(".domain").remove();
svg.selectAll(".tick line").style("stroke", "#555").style("stroke-width", 1.5);
svg.selectAll(".tick text")
  .style("font-family", tickFont)
  .style("font-size", "30px")
  .style("fill", "#222");

svg.append("text")
  .attr("x", 1125).attr("y", 1000)
  .style("font-family", tickFont)
  .style("font-size", "33px")
  .style("text-anchor", "middle")
  .style("fill", "#333")
  .text("log10(P(s))");

svg.append("text")
  .attr("transform", "translate(411,479) rotate(-90)")
  .style("font-family", tickFont)
  .style("font-size", "32px")
  .style("text-anchor", "middle")
  .style("fill", "#333")
  .text("log10(Pdot(s/s))");

// callouts
function arrow(x1, y1, x2, y2, color, w, len) {
  var a = Math.atan2(y2 - y1, x2 - x1), s = 0.5;
  svg.append("line")
    .attr("x1", x1).attr("y1", y1).attr("x2", x2).attr("y2", y2)
    .style("stroke", color).style("stroke-width", w);
  svg.append("path")
    .attr("d", "M" + (x2 - len * Math.cos(a - s)) + "," + (y2 - len * Math.sin(a - s)) +
      "L" + x2 + "," + y2 +
      "L" + (x2 - len * Math.cos(a + s)) + "," + (y2 - len * Math.sin(a + s)))
    .style("fill", "none").style("stroke", color).style("stroke-width", w)
    .style("stroke-linejoin", "miter");
}

arrow(357, 342, x(-1.36), y(-14.62), "#2233a3", 3.5, 22);
arrow(385, 867, x(-1.554), y(-19.95), "#2233a3", 3.5, 22);
arrow(1296, -2, x(0.795), y(-9.45), "#12b04c", 4.5, 26);

svg.append("ellipse")
  .attr("cx", x(0.901)).attr("cy", y(-10.35))
  .attr("rx", x(0.901 + 0.287) - x(0.901))
  .attr("ry", y(-10.35 - 1.566) - y(-10.35))
  .style("fill", "none")
  .style("stroke", "#5cb444")
  .style("stroke-width", 4);

var serif = "'Liberation Serif', 'Times New Roman', serif";
svg.append("text")
  .attr("x", 51).attr("y", 362)
  .style("font-family", serif)
  .style("font-weight", "bold")
  .style("font-size", "48px")
  .style("fill", "#0070c0")
  .text("Radio pulsars");

svg.append("text")
  .attr("x", 13).attr("y", 867)
  .style("font-family", serif)
  .style("font-weight", "bold")
  .style("font-size", "43px")
  .style("fill", "#ff0000")
  .text("Millisecond pulsars");
</script>
</body>
</html>
